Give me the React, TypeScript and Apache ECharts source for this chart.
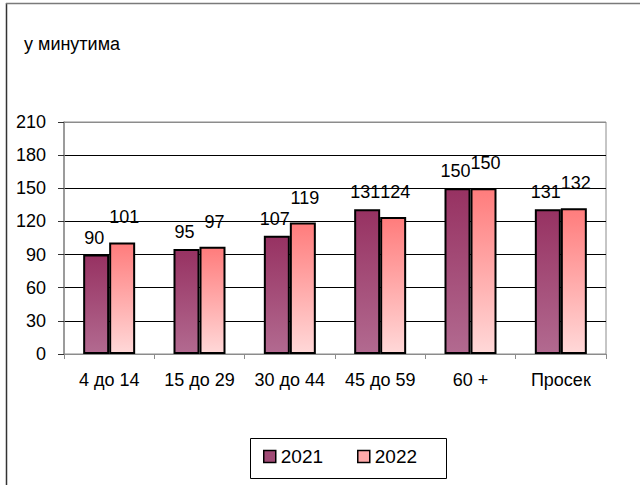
import React, { useEffect, useRef } from "react";
import * as echarts from "echarts";

const categories = ["4 до 14", "15 до 29", "30 до 44", "45 до 59", "60 +", "Просек"];
const values2021 = [90, 95, 107, 131, 150, 131];
const values2022 = [101, 97, 119, 124, 150, 132];
const seriesNames = ["2021", "2022"];
const unitLabel = "у минутима";

const FONT = "'Liberation Sans', Arial, sans-serif";

export default function App() {
  const ref = useRef<HTMLDivElement>(null);
  useEffect(() => {
    if (!ref.current) return;
    const chart = echarts.init(ref.current, undefined, { renderer: "svg" });
    const grad2021 = new echarts.graphic.LinearGradient(0, 0, 0, 1, [
      { offset: 0, color: "#973262" },
      { offset: 1, color: "#b26a90" },
    ]);
    const grad2022 = new echarts.graphic.LinearGradient(0, 0, 0, 1, [
      { offset: 0, color: "#ff7c7c" },
      { offset: 1, color: "#ffd8d8" },
    ]);
    chart.setOption({
      animation: false,
      backgroundColor: "#ffffff",
      textStyle: { fontFamily: FONT },
      grid: { left: 64, right: 34, top: 122, bottom: 131, show: true, borderColor: "#8c8c8c", borderWidth: 1 },
      legend: {
        left: 263,
        top: 447,
        padding: 0,
        itemWidth: 12,
        itemHeight: 12,
        itemGap: 34,
        icon: "rect",
        textStyle: { fontSize: 19, color: "#000", fontFamily: FONT },
        data: [
          { name: seriesNames[0], itemStyle: { color: "#a04a75", borderColor: "#000", borderWidth: 1.5 } },
          { name: seriesNames[1], itemStyle: { color: "#ffaaaa", borderColor: "#000", borderWidth: 1.5 } },
        ],
      },
      graphic: [
        { type: "line", shape: { x1: 6.5, y1: 3, x2: 6.5, y2: 485 }, style: { stroke: "#333", lineWidth: 1.5 } },
        { type: "line", shape: { x1: 6, y1: 3.5, x2: 640, y2: 3.5 }, style: { stroke: "#7a7a7a", lineWidth: 1.5 } },
        { type: "rect", shape: { x: 250.5, y: 438.5, width: 196, height: 40 }, style: { fill: "none", stroke: "#000", lineWidth: 1 } },
        { type: "text", left: 24, top: 35, style: { text: unitLabel, font: `18px ${FONT}`, fill: "#000" } },
      ],
      xAxis: {
        type: "category",
        data: categories,
        axisLine: { lineStyle: { color: "#8c8c8c", width: 1 } },
        axisTick: { show: true, length: 5, lineStyle: { color: "#8c8c8c" } },
        axisLabel: { interval: 0, fontSize: 18, color: "#000", margin: 17, fontFamily: FONT },
      },
      yAxis: {
        type: "value",
        min: 0,
        max: 210,
        interval: 30,
        axisLine: { show: true, lineStyle: { color: "#8c8c8c", width: 1.5 } },
        axisTick: { show: true, length: 6, lineStyle: { color: "#333" } },
        axisLabel: { fontSize: 18, color: "#000", margin: 18, fontFamily: FONT },
        splitLine: {
          show: true,
          lineStyle: { color: ["#000", "#000", "#000", "#000", "#000", "#000", "#000", "#8c8c8c"], width: 1 },
        },
      },
      series: [
        {
          name: seriesNames[0],
          type: "bar",
          data: values2021,
          barWidth: 26,
          barGap: "0%",
          itemStyle: { color: grad2021, borderColor: "#000", borderWidth: 2 },
          label: { show: true, position: "top", distance: 8, offset: [-2, 0], fontSize: 18, color: "#000", fontFamily: FONT },
        },
        {
          name: seriesNames[1],
          type: "bar",
          data: values2022,
          barWidth: 26,
          barGap: "0%",
          itemStyle: { color: grad2022, borderColor: "#000", borderWidth: 2 },
          label: { show: true, position: "top", distance: 16, offset: [2, 0], fontSize: 18, color: "#000", fontFamily: FONT },
        },
      ],
    });
    return () => chart.dispose();
  }, []);
  return <div ref={ref} style={{ position: "fixed", left: 0, top: 0, width: 640, height: 485 }} />;
}
